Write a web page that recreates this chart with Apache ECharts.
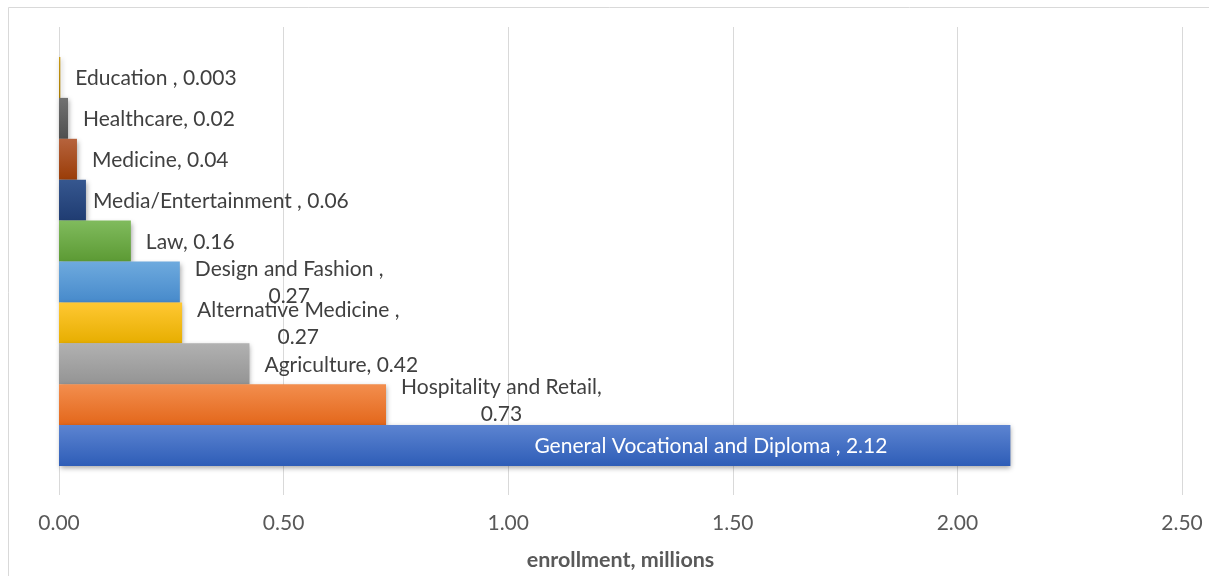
<!DOCTYPE html>
<html>
<head>
<meta charset="utf-8">
<script src="https://cdn.jsdelivr.net/npm/echarts@6/dist/echarts.min.js"></script>
<style>
html,body{margin:0;padding:0;background:#fff;}
#chart{width:1209px;height:576px;}
</style>
</head>
<body>
<div id="chart"></div>
<script>
// ---- data ----
const categories = ['Education ', 'Healthcare', 'Medicine', 'Media/Entertainment ', 'Law',
  'Design and Fashion ', 'Alternative Medicine ', 'Agriculture', 'Hospitality and Retail',
  'General Vocational and Diploma '];
const values = [0.003, 0.02, 0.04, 0.06, 0.16, 0.269, 0.274, 0.424, 0.728, 2.118];
const valueText = ['0.003', '0.02', '0.04', '0.06', '0.16', '0.27', '0.27', '0.42', '0.73', '2.12'];
const xTickMin = 0, xTickMax = 2.5, xTickStep = 0.5;
const axisTitle = 'enrollment, millions';

// ---- styles ----
const FONT = 'Lato, "Liberation Sans", sans-serif';
const topColors =    ['#c99a16', '#717171', '#b6633d', '#36578f', '#80bb5d', '#6eaade', '#ffc833', '#b1b1b1', '#f38e4e', '#5c84d1'];
const bottomColors = ['#a67a00', '#4f4f4f', '#9a3c07', '#1f3c72', '#5c9a34', '#478acb', '#e7ae00', '#949494', '#e3671b', '#2e5db7'];
const wrapped = new Set([5, 6, 8]);
const inside = new Set([9]);

const data = values.map((v, i) => {
  const item = {
    value: v,
    itemStyle: {
      color: new echarts.graphic.LinearGradient(0, 0, 0, 1, [
        {offset: 0, color: topColors[i]}, {offset: 1, color: bottomColors[i]}
      ]),
      shadowBlur: 5, shadowOffsetX: 1, shadowOffsetY: 2, shadowColor: 'rgba(0,0,0,0.35)'
    },
    label: {}
  };
  if (wrapped.has(i)) {
    item.label = {
      formatter: '{c|' + categories[i] + ',}\n{c|' + valueText[i] + '}',
      rich: {c: {align: 'center', fontSize: 21, lineHeight: 27, color: '#404040', fontFamily: FONT}}
    };
    if (i === 8) item.label.offset = [0, -4];
  } else if (inside.has(i)) {
    item.label = {
      formatter: categories[i] + ', ' + valueText[i],
      position: 'insideRight', distance: 123, color: '#ffffff'
    };
  } else {
    item.label = {formatter: categories[i] + ', ' + valueText[i]};
    if (i === 3) item.label.distance = 7;
  }
  return item;
});

const chart = echarts.init(document.getElementById('chart'), null, {renderer: 'canvas'});
chart.setOption({
  animation: false,
  backgroundColor: '#ffffff',
  graphic: [{
    type: 'rect', silent: true, z: -10,
    shape: {x: 8.5, y: 7.5, width: 1400, height: 800},
    style: {fill: 'none', stroke: '#d9d9d9', lineWidth: 1}
  }],
  grid: [
    {left: 59, right: 27, top: 27, bottom: 80},
    {left: 59, right: 27, top: 57, bottom: 110}
  ],
  xAxis: [
    {
      gridIndex: 0, type: 'value', min: xTickMin, max: xTickMax, interval: xTickStep,
      axisLine: {show: false}, axisTick: {show: false},
      splitLine: {show: true, lineStyle: {color: '#d9d9d9', width: 1}},
      axisLabel: {margin: 18, color: '#595959', fontSize: 21, fontFamily: FONT,
        formatter: v => v.toFixed(2)},
      name: axisTitle, nameLocation: 'middle', nameGap: 54,
      nameTextStyle: {color: '#595959', fontSize: 21.5, fontWeight: 'bold', fontFamily: FONT}
    },
    {
      gridIndex: 1, type: 'value', min: xTickMin, max: xTickMax, show: false
    }
  ],
  yAxis: [
    {gridIndex: 0, type: 'value', min: 0, max: 1, show: false},
    {gridIndex: 1, type: 'category', data: categories, inverse: true, show: false}
  ],
  series: [{
    type: 'bar', xAxisIndex: 1, yAxisIndex: 1,
    barCategoryGap: '0%',
    data: data,
    label: {show: true, position: 'right', distance: 15, color: '#404040',
      fontSize: 21, fontFamily: FONT, offset: [0, 1]}
  }]
});
</script>
</body>
</html>
